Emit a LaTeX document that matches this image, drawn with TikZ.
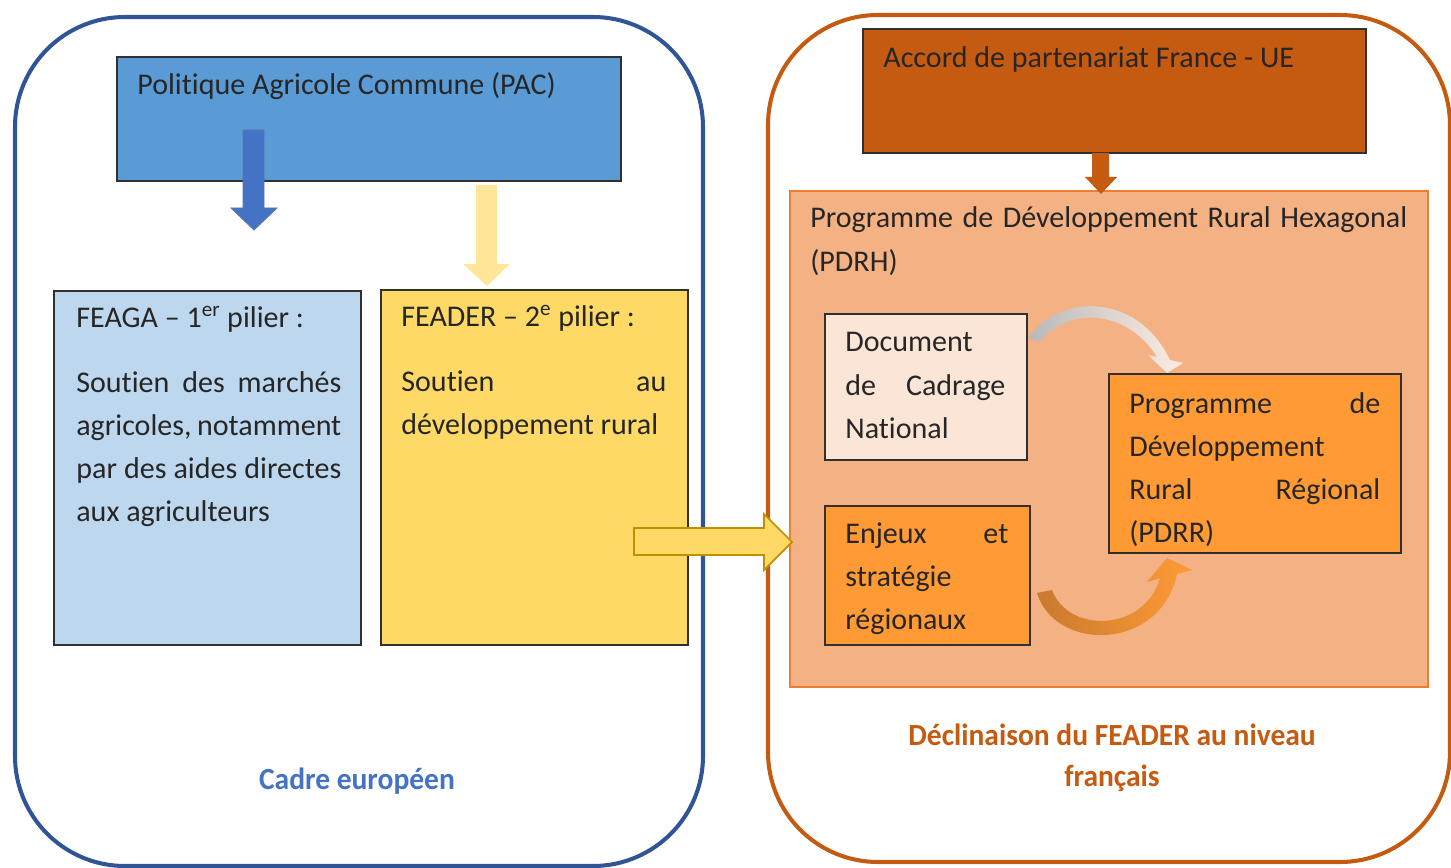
\documentclass[tikz,border=0pt]{standalone}
\usepackage{fontspec}
\setmainfont[Ligatures=NoCommon]{Carlito}
\usetikzlibrary{fit}
\definecolor{blueframe}{HTML}{2F5597}
\definecolor{pacfill}{HTML}{5B9BD5}
\definecolor{bluearrow}{HTML}{4472C4}
\definecolor{feagafill}{HTML}{BDD7EE}
\definecolor{feaderfill}{HTML}{FFD966}
\definecolor{lightyellow}{HTML}{FFE699}
\definecolor{yellowborder}{HTML}{BF9000}
\definecolor{accordfill}{HTML}{C55A11}
\definecolor{pdrhfill}{HTML}{F4B183}
\definecolor{pdrhborder}{HTML}{ED7D31}
\definecolor{docfill}{HTML}{FBE5D6}
\definecolor{orangefill}{HTML}{FF9A35}
\definecolor{darkorange}{HTML}{C87A2E}
\definecolor{textgray}{HTML}{262626}
\definecolor{boxborder}{HTML}{303030}
\begin{document}
\begin{tikzpicture}[x=0.02cm,y=-0.02cm,
  frame/.style={line width=2.3pt, rounded corners=2.2cm},
  box/.style={draw=boxborder, line width=0.8pt, inner sep=0pt},
  txt/.style={inner sep=0pt, text=textgray, font=\fontsize{17.1}{24.5}\selectfont},
  label/.style={inner sep=0pt, font=\bfseries\fontsize{17.5}{24.5}\selectfont},
  fatarrow/.style={line width=0.5pt, line join=miter}]
\useasboundingbox (0,0) rectangle (1451,868);
% outer frames
\draw[frame, draw=blueframe] (15,17) rectangle (703,866);
\draw[frame, draw=accordfill] (768,15) rectangle (1450,862);
% left boxes
\node[box, fill=pacfill, fit={(117,57) (621,181)}] (pac) {};
\node[box, fill=feagafill, fit={(54,291) (361,645)}] (feaga) {};
\node[box, fill=feaderfill, fit={(381,290) (688,645)}] (feader) {};
% right boxes
\node[box, fill=accordfill, fit={(863,29) (1366,153)}] (accord) {};
\node[draw=pdrhborder, line width=1pt, inner sep=0pt, fill=pdrhfill, fit={(790,191) (1428,687)}] (pdrh) {};
\node[box, fill=docfill, fit={(825,314) (1027,460)}] (doc) {};
\node[box, fill=orangefill, fit={(825,506) (1030,645)}] (enjeux) {};
\node[box, fill=orangefill, fit={(1109,374) (1401,553)}] (pdrr) {};
% block arrows
\filldraw[fatarrow, fill=bluearrow, draw=blueframe!80]
  (243,130) -- (264,130) -- (264,208) -- (277,208) -- (254,230) -- (231,208) -- (243,208) -- cycle;
\fill[lightyellow]
  (476,185) -- (497,185) -- (497,264) -- (510,264) -- (487,286) -- (463,264) -- (476,264) -- cycle;
\fill[accordfill]
  (1092,153) -- (1109,153) -- (1109,177) -- (1117,177) -- (1101,194) -- (1085,177) -- (1092,177) -- cycle;
\filldraw[fatarrow, fill=feaderfill, draw=yellowborder, line width=1pt]
  (634,528) -- (764,528) -- (764,514) -- (792,542) -- (764,570) -- (764,555) -- (634,555) -- cycle;
% curved arrows
\shade[left color=gray!55, right color=docfill!70!white]
  (1028,338) .. controls (1060,292) and (1138,293) .. (1170,360) -- (1183,363) -- (1167,373) -- (1148,355) -- (1157,357)
  .. controls (1127,309) and (1068,306) .. (1040,342) -- cycle;
\shade[left color=darkorange, right color=orangefill]
  (1037,593) .. controls (1055,652) and (1160,652) .. (1177,574) -- (1192,570) -- (1167,558) -- (1147,582) -- (1160,578)
  .. controls (1145,632) and (1068,634) .. (1052,590) -- cycle;
% texts
\node[txt, anchor=base west] (tpac) at (137,95) {Politique Agricole Commune (PAC)};
\node[txt, anchor=base west] (tfeaga) at (76,328) {\parbox[t]{5.3cm}{FEAGA – 1\textsuperscript{er} pilier :\\[0.42cm]
  \makebox[\linewidth][s]{Soutien des marchés}\\
  \makebox[\linewidth][s]{agricoles, notamment}\\
  \makebox[\linewidth][s]{par des aides directes}\\
  aux agriculteurs}};
\node[txt, anchor=base west] (tfeader) at (401,327) {\parbox[t]{5.3cm}{FEADER – 2\textsuperscript{e} pilier :\\[0.42cm]
  \makebox[\linewidth][s]{Soutien au}\\
  développement rural}};
\node[txt, anchor=base west] (taccord) at (883,68) {Accord de partenariat France - UE};
\node[txt, anchor=base west] (tpdrh) at (810,228) {\parbox[t]{11.94cm}{%
  \makebox[\linewidth][s]{Programme de Développement Rural Hexagonal}\\
  (PDRH)}};
\node[txt, anchor=base west] (tdoc) at (845,352) {\parbox[t]{3.2cm}{Document\\
  \makebox[\linewidth][s]{de Cadrage}\\
  National}};
\node[txt, anchor=base west] (tenjeux) at (845,543) {\parbox[t]{3.26cm}{%
  \makebox[\linewidth][s]{Enjeux et}\\
  stratégie\\
  régionaux}};
\node[txt, anchor=base west] (tpdrr) at (1129,413) {\parbox[t]{5.02cm}{%
  \makebox[\linewidth][s]{Programme de}\\
  Développement\\
  \makebox[\linewidth][s]{Rural Régional}\\
  (PDRR)}};
% frame labels
\node[label, text=bluearrow, anchor=base] (lcadre) at (357,789) {\scalebox{0.96}[1]{Cadre européen}};
\node[label, text=accordfill, anchor=base] (ldecl) at (1112,745)
  {\scalebox{0.96}[1]{Déclinaison du FEADER au niveau}};
\node[label, text=accordfill, anchor=base] (lfr) at (1112,786) {\scalebox{0.96}[1]{français}};
\end{tikzpicture}
\end{document}
